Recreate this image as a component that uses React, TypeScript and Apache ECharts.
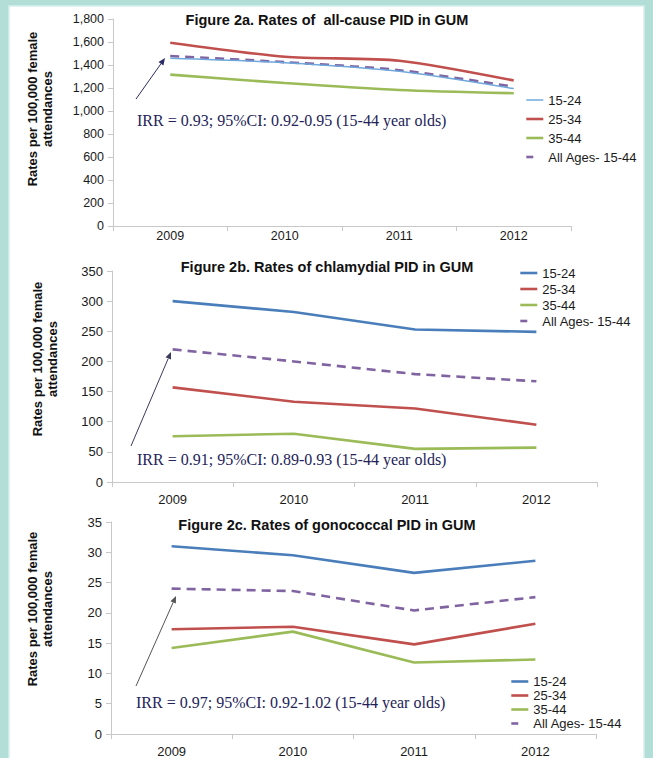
import React, { useEffect, useRef } from "react";
import * as echarts from "echarts";

const years = ["2009", "2010", "2011", "2012"];
const seriesNames = ["15-24", "25-34", "35-44", "All Ages- 15-44"];

// Figure 2a: all-cause PID
const allCause1524 = [1458, 1420, 1345, 1195];
const allCause2534 = [1594, 1472, 1437, 1265];
const allCause3544 = [1316, 1243, 1183, 1155];
const allCauseAll = [1478, 1425, 1355, 1211];

// Figure 2b: chlamydial PID
const chlam1524 = [300, 282, 253, 249];
const chlam2534 = [157, 133, 122, 95];
const chlam3544 = [76, 80, 55, 57];
const chlamAll = [220, 200, 179, 167];

// Figure 2c: gonococcal PID
const gono1524 = [31.0, 29.5, 26.6, 28.6];
const gono2534 = [17.3, 17.7, 14.8, 18.2];
const gono3544 = [14.2, 16.9, 11.8, 12.3];
const gonoAll = [24.0, 23.6, 20.4, 22.6];

const titles = [
  "Figure 2a. Rates of  all-cause PID in GUM",
  "Figure 2b. Rates of chlamydial PID in GUM",
  "Figure 2c. Rates of gonococcal PID in GUM",
];
const notes = [
  "IRR = 0.93; 95%CI: 0.92-0.95 (15-44 year olds)",
  "IRR = 0.91; 95%CI: 0.89-0.93 (15-44 year olds)",
  "IRR = 0.97; 95%CI: 0.92-1.02 (15-44 year olds)",
];
const yName = "Rates per 100,000 female\nattendances";
const yMax = [1800, 350, 35];
const yInterval = [200, 50, 5];

const BLUE_LIGHT = "#6fa8dc";
const BLUE = "#4a7ebb";
const RED = "#c0504d";
const GREEN = "#9bbb59";
const PURPLE = "#8064a2";

function arrow(x1: number, y1: number, x2: number, y2: number, color: string) {
  const ang = Math.atan2(y2 - y1, x2 - x1);
  const len = 7;
  const w = 3;
  const bx = x2 - len * Math.cos(ang);
  const by = y2 - len * Math.sin(ang);
  const px = -Math.sin(ang) * w;
  const py = Math.cos(ang) * w;
  return [
    {
      type: "line",
      shape: { x1, y1, x2: bx, y2: by },
      style: { stroke: color, lineWidth: 1 },
      z: 10,
    },
    {
      type: "polygon",
      shape: {
        points: [
          [x2, y2],
          [bx + px, by + py],
          [bx - px, by - py],
        ],
      },
      style: { fill: color },
      z: 10,
    },
  ];
}

export default function App() {
  const ref = useRef<HTMLDivElement>(null);

  useEffect(() => {
    document.body.style.margin = "0";
    const chart = echarts.init(ref.current!, null, { renderer: "svg" });

    const grids = [
      { left: 113, right: 82, top: 19, bottom: 532 },
      { left: 112, right: 56, top: 271, bottom: 276 },
      { left: 111, right: 57, top: 522, bottom: 21 },
    ];
    const tickFont = [12.5, 13, 13];
    const xLabelMargin = [3, 11, 11];

    const xAxis = grids.map((_, i) => ({
      type: "category",
      gridIndex: i,
      data: years,
      boundaryGap: true,
      axisLine: { lineStyle: { color: "#c8c8c8", width: 1 } },
      axisTick: { show: true, length: 5, lineStyle: { color: "#c8c8c8" } },
      axisLabel: {
        color: "#1a1a1a",
        fontSize: tickFont[i],
        fontFamily: "Liberation Sans, Arial, sans-serif",
        margin: xLabelMargin[i],
      },
      splitLine: { show: false },
    }));

    const yAxis = grids.map((_, i) => ({
      type: "value",
      gridIndex: i,
      min: 0,
      max: yMax[i],
      interval: yInterval[i],
      axisLine: { show: true, lineStyle: { color: "#c8c8c8", width: 1 } },
      axisTick: { show: true, length: 5, lineStyle: { color: "#c8c8c8" } },
      axisLabel: {
        color: "#1a1a1a",
        fontSize: tickFont[i],
        fontFamily: "Liberation Sans, Arial, sans-serif",
        margin: 9,
        formatter: (v: number) => v.toLocaleString("en-US"),
      },
      splitLine: { show: false },
    }));

    const datasets = [
      [allCause1524, allCause2534, allCause3544, allCauseAll],
      [chlam1524, chlam2534, chlam3544, chlamAll],
      [gono1524, gono2534, gono3544, gonoAll],
    ];

    const series: any[] = [];
    datasets.forEach((set, gi) => {
      set.forEach((vals, si) => {
        const color =
          si === 0 ? (gi === 0 ? BLUE_LIGHT : BLUE) : si === 1 ? RED : si === 2 ? GREEN : PURPLE;
        const width = si === 0 && gi === 0 ? 1.5 : 2.6;
        series.push({
          type: "line",
          name: seriesNames[si],
          xAxisIndex: gi,
          yAxisIndex: gi,
          data: vals,
          symbol: "none",
          smooth: gi === 0 ? 0.25 : false,
          color,
          lineStyle: {
            color,
            width,
            type: si === 3 ? [9, 6] : "solid",
          },
          z: si === 3 ? 3 : si === 0 ? 4 : 2,
        });
      });
    });

    const legendColors = [
      [BLUE_LIGHT, RED, GREEN, PURPLE],
      [BLUE, RED, GREEN, PURPLE],
      [BLUE, RED, GREEN, PURPLE],
    ];
    const legendPos = [
      { left: 525, top: 93, itemGap: 5, itemHeight: 14, lineHeight: 14 },
      { left: 519, top: 266, itemGap: 2, itemHeight: 14, lineHeight: 14 },
      { left: 510, top: 675, itemGap: 1, itemHeight: 12, lineHeight: 12 },
    ];
    const legend = legendPos.map((p, gi) => ({
      orient: "vertical",
      left: p.left,
      top: p.top,
      padding: 0,
      itemGap: p.itemGap,
      itemWidth: 17,
      itemHeight: p.itemHeight,
      selectedMode: false,
      textStyle: {
        color: "#1a1a1a",
        fontSize: 13,
        lineHeight: p.lineHeight,
        fontFamily: "Liberation Sans, Arial, sans-serif",
      },
      data: seriesNames.map((n, si) => ({
        name: n,
        itemStyle: { opacity: 0, borderWidth: 0 },
        lineStyle: {
          color: legendColors[gi][si],
          width: si === 0 && gi === 0 ? 1.5 : 2.6,
          type: si === 3 ? [7, 12] : "solid",
        },
      })),
    }));

    const titlePos = [
      [327, 20],
      [327, 267],
      [327, 525],
    ];
    const notePos = [
      [137, 120],
      [137, 459],
      [136, 702],
    ];
    const yNamePos = [
      [40, 109],
      [45, 359],
      [40, 609],
    ];
    const arrows = [
      arrow(136, 99, 165, 58, "#2b2b66"),
      arrow(131, 446, 171, 352, "#3b3b5e"),
      arrow(136, 686, 176, 596, "#555555"),
    ];

    const graphic: any[] = [
      {
        type: "rect",
        shape: { x: 9, y: 6, width: 635, height: 760 },
        style: { fill: "#ffffff", stroke: "#d6efeb", lineWidth: 1.5 },
        z: -10,
      },
    ];
    for (let i = 0; i < 3; i++) {
      graphic.push({
        type: "text",
        x: titlePos[i][0],
        y: titlePos[i][1],
        style: {
          text: titles[i],
          fill: "#111111",
          font: "bold 14.5px 'Liberation Sans', Arial, sans-serif",
          textAlign: "center",
          textVerticalAlign: "middle",
        },
        z: 10,
      });
      graphic.push({
        type: "text",
        x: notePos[i][0],
        y: notePos[i][1],
        style: {
          text: notes[i],
          fill: "#23235a",
          font: "16px 'Liberation Serif', 'Times New Roman', serif",
          textAlign: "left",
          textVerticalAlign: "middle",
        },
        z: 10,
      });
      graphic.push({
        type: "text",
        x: yNamePos[i][0],
        y: yNamePos[i][1],
        rotation: Math.PI / 2,
        style: {
          text: yName,
          fill: "#111111",
          font: "bold 13px 'Liberation Sans', Arial, sans-serif",
          lineHeight: 15,
          textAlign: "center",
          textVerticalAlign: "middle",
        },
        z: 10,
      });
      graphic.push(...arrows[i]);
    }

    chart.setOption({
      animation: false,
      backgroundColor: "transparent",
      grid: grids,
      xAxis,
      yAxis,
      series,
      legend,
      graphic,
    });

    return () => chart.dispose();
  }, []);

  return (
    <div
      style={{
        position: "absolute",
        left: 0,
        top: 0,
        width: 653,
        height: 758,
        background: "#b3ded8",
        overflow: "hidden",
      }}
    >
      <div ref={ref} style={{ width: 653, height: 758 }} />
    </div>
  );
}
